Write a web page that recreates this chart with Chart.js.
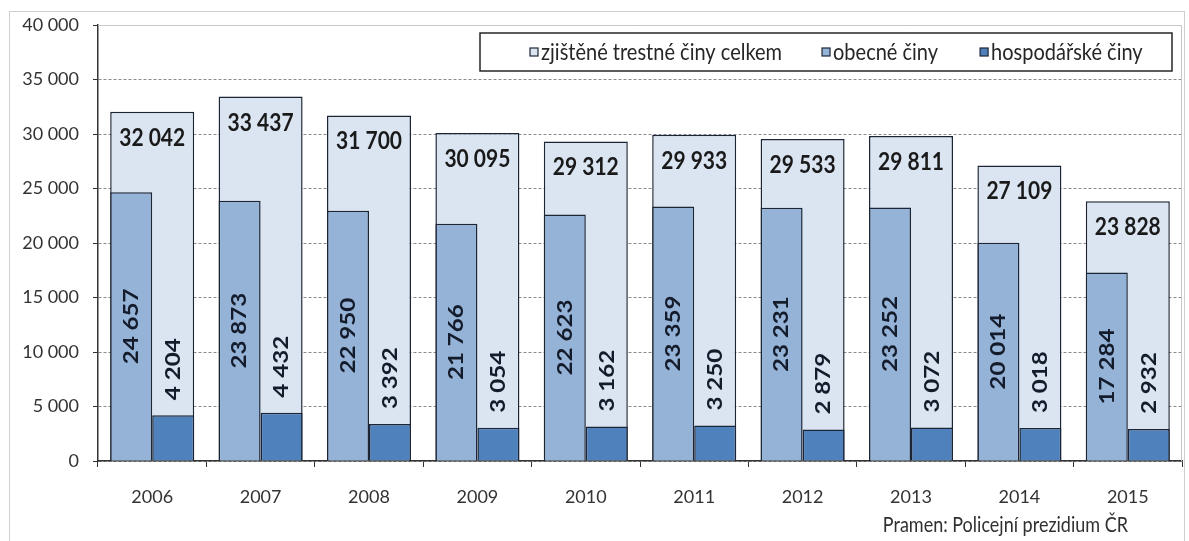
<!DOCTYPE html>
<html>
<head>
<meta charset="utf-8">
<script src="https://cdn.jsdelivr.net/npm/chart.js@4.4.1/dist/chart.umd.min.js"></script>
<style>
  html, body { margin: 0; padding: 0; background: #fff; }
  #wrap { position: relative; width: 1189px; height: 541px; overflow: hidden; }
  #frame { position: absolute; left: 9px; top: 11px; width: 1176px; height: 540px; border: 1px solid #cfcfcf; box-sizing: border-box; }
  canvas { position: absolute; left: 0; top: 0; }
</style>
</head>
<body>
<div id="wrap">
  <div id="frame"></div>
  <canvas id="c" width="1189" height="541"></canvas>
</div>
<script>
const years = ['2006','2007','2008','2009','2010','2011','2012','2013','2014','2015'];
const totalCrimes = [32042, 33437, 31700, 30095, 29312, 29933, 29533, 29811, 27109, 23828];
const generalCrimes = [24657, 23873, 22950, 21766, 22623, 23359, 23231, 23252, 20014, 17284];
const economicCrimes = [4204, 4432, 3392, 3054, 3162, 3250, 2879, 3072, 3018, 2932];
const seriesNames = ['zjištěné trestné činy celkem', 'obecné činy', 'hospodářské činy'];
const yTicks = [0, 5000, 10000, 15000, 20000, 25000, 30000, 35000, 40000];
const sourceNote = 'Pramen: Policejní prezidium ČR';

const FONT = "Lato, 'Open Sans', sans-serif";
const EDGE = '#1c2535';
const COLORS = ['#dbe5f1', '#95b3d7', '#4f81bd'];

function fmt(v) { return String(v).replace(/\B(?=(\d{3})+(?!\d))/g, ' '); }

const labelPlugin = {
  id: 'labels',
  afterDatasetsDraw(chart) {
    const ctx = chart.ctx;
    const ca = chart.chartArea;
    // plot area border (top, right)
    ctx.save();
    ctx.strokeStyle = '#c8c8c8';
    ctx.lineWidth = 1;
    ctx.beginPath();
    ctx.moveTo(ca.left, ca.top + 0.5);
    ctx.lineTo(ca.right - 0.5, ca.top + 0.5);
    ctx.lineTo(ca.right - 0.5, ca.bottom);
    ctx.stroke();
    ctx.restore();

    // total labels
    const mTot = chart.getDatasetMeta(0);
    ctx.save();
    ctx.fillStyle = '#1a1a1a';
    ctx.font = "bold 21px " + FONT;
    ctx.textAlign = 'center';
    ctx.textBaseline = 'middle';
    mTot.data.forEach((el, i) => {
      ctx.save();
      ctx.translate(el.x, el.y + 26);
      ctx.scale(1, 1.18);
      ctx.fillText(fmt(totalCrimes[i]), 0, 0);
      ctx.restore();
    });
    ctx.restore();

    // general crimes: centered rotated
    const mGen = chart.getDatasetMeta(1);
    ctx.save();
    ctx.fillStyle = '#141c2c';
    ctx.font = "bold 21px " + FONT;
    ctx.textAlign = 'center';
    ctx.textBaseline = 'middle';
    mGen.data.forEach((el, i) => {
      const cy = (el.y + el.base) / 2;
      ctx.save();
      ctx.translate(el.x, cy);
      ctx.rotate(-Math.PI / 2);
      ctx.scale(1.15, 1);
      ctx.fillText(fmt(generalCrimes[i]), 0, 0);
      ctx.restore();
    });
    // economic crimes: above bar
    const mEco = chart.getDatasetMeta(2);
    ctx.textAlign = 'left';
    mEco.data.forEach((el, i) => {
      ctx.save();
      ctx.translate(el.x, el.y - 15);
      ctx.rotate(-Math.PI / 2);
      ctx.scale(1.15, 1);
      ctx.fillText(fmt(economicCrimes[i]), 0, 0);
      ctx.restore();
    });
    ctx.restore();
  },
  afterDraw(chart) {
    const ctx = chart.ctx;
    const ca = chart.chartArea;
    // legend box
    const boxR = ca.right - 10, boxW = 692, boxT = ca.top + 8, boxH = 38;
    const boxL = boxR - boxW;
    ctx.save();
    ctx.fillStyle = '#fff';
    ctx.fillRect(boxL, boxT, boxW, boxH);
    ctx.strokeStyle = '#262626';
    ctx.lineWidth = 1.5;
    ctx.strokeRect(boxL, boxT, boxW, boxH);
    ctx.font = "20px " + FONT;
    ctx.textBaseline = 'middle';
    const gaps = [0, 40, 42];
    let x = boxL + 50;
    const cy = boxT + boxH / 2;
    seriesNames.forEach((name, i) => {
      x += gaps[i];
      ctx.fillStyle = COLORS[i];
      ctx.fillRect(x, cy - 4, 8, 8);
      ctx.strokeStyle = EDGE;
      ctx.lineWidth = 1.2;
      ctx.strokeRect(x, cy - 4, 8, 8);
      ctx.fillStyle = '#262626';
      ctx.save();
      ctx.translate(x + 11, cy + 1);
      ctx.scale(1, 1.12);
      ctx.fillText(name, 0, 0);
      ctx.restore();
      x += 11 + ctx.measureText(name).width;
    });
    // source
    ctx.font = "18px " + FONT;
    ctx.textAlign = 'right';
    ctx.fillStyle = '#303030';
    ctx.save();
    ctx.translate(ca.right - 54, 525);
    ctx.scale(1, 1.15);
    ctx.fillText(sourceNote, 0, 0);
    ctx.restore();
    ctx.restore();
  }
};

new Chart(document.getElementById('c'), {
  type: 'bar',
  data: {
    labels: years,
    datasets: [
      { label: seriesNames[0], data: totalCrimes, grouped: false, backgroundColor: COLORS[0],
        borderColor: EDGE, borderWidth: 1.5, categoryPercentage: 1, barPercentage: 0.775, order: 2 },
      { label: seriesNames[1], data: generalCrimes, backgroundColor: COLORS[1],
        borderColor: EDGE, borderWidth: 1.5, categoryPercentage: 0.775, barPercentage: 1, order: 1 },
      { label: seriesNames[2], data: economicCrimes, backgroundColor: COLORS[2],
        borderColor: EDGE, borderWidth: 1.5, categoryPercentage: 0.775, barPercentage: 1, order: 1 }
    ]
  },
  options: {
    responsive: false,
    animation: false,
    layout: { padding: { left: 10, right: 7, top: 25, bottom: 0 } },
    plugins: { legend: { display: false }, tooltip: { enabled: false } },
    scales: {
      x: {
        type: 'category',
        offset: true,
        grid: { display: true, drawOnChartArea: false, drawTicks: true, tickLength: 6, tickColor: '#333', offset: true, lineWidth: 1 },
        border: { display: true, color: '#333', width: 1.5 },
        ticks: { color: '#333', font: { family: FONT, size: 18 }, padding: 19, maxRotation: 0 },
        afterFit(s) { s.height = 80; }
      },
      y: {
        min: 0, max: 40000,
        afterBuildTicks(s) { s.ticks = yTicks.map(v => ({ value: v })); },
        grid: { color: '#8a8a8a', lineWidth: 1, drawTicks: true, tickLength: 5, tickColor: '#333', tickBorderDash: [] },
        border: { display: true, color: '#333', width: 1.5, dash: [3, 2] },
        ticks: { color: '#333', font: { family: FONT, size: 18 }, padding: 14, callback: v => fmt(v) },
        afterFit(s) { s.width = 88; }
      }
    }
  },
  plugins: [labelPlugin]
});
</script>
</body>
</html>
